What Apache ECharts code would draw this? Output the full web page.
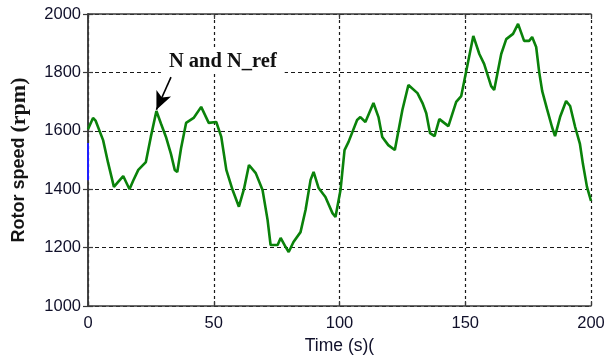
<!DOCTYPE html>
<html>
<head>
<meta charset="utf-8">
<script src="https://cdn.jsdelivr.net/npm/echarts@6/dist/echarts.min.js"></script>
<style>
  html, body { margin: 0; padding: 0; background: #fff; }
  #chart { width: 614px; height: 360px; }
</style>
</head>
<body>
<div id="chart"></div>
<script>
// Rotor speed trace: time (s) and speed (rpm)
const timeS = [
  0, 2, 3, 6, 8, 10.3, 12, 14, 16.5, 18, 20, 23, 25, 27.2, 29, 31, 33, 34.5, 35.5, 37,
  39, 42, 45, 48, 51, 53, 55, 57.5, 60, 62, 64, 66.7, 69.4, 71.4, 72.6, 75.4, 76.6, 78.6, 79.8, 81.7,
  84.5, 86.5, 88.5, 89.7, 91.7, 94.4, 97.2, 98.4, 100.4, 102, 103.6, 107, 108.3, 110.3, 113.5, 115.5, 117, 119.4, 122, 125,
  127.4, 131, 133, 134.5, 136, 137.8, 139.7, 143.3, 146.4, 148.4, 150.4, 153.2, 155.6, 157.5, 160.3, 161.5, 164.3, 166.3, 169, 171,
  173.4, 175.4, 176.6, 178.2, 179.4, 180.6, 182.5, 184.5, 185.7, 187.7, 190.1, 191.7, 193.7, 195.6, 196.8, 198.4, 200
];
const speedRpm = [
  1605, 1644, 1635, 1568, 1490, 1408, 1425, 1445, 1400, 1430, 1466, 1493, 1580, 1668, 1625, 1579, 1520, 1466, 1459, 1540,
  1627, 1644, 1682, 1627, 1630, 1579, 1466, 1397, 1340, 1400, 1483, 1455, 1397, 1295, 1209, 1209, 1233, 1202, 1185, 1219,
  1253, 1329, 1432, 1459, 1404, 1373, 1318, 1305, 1397, 1534, 1562, 1637, 1647, 1630, 1695, 1647, 1579, 1551, 1534, 1671,
  1757, 1729, 1695, 1660, 1592, 1582, 1640, 1616, 1699, 1719, 1805, 1925, 1863, 1829, 1753, 1740, 1863, 1914, 1932, 1966,
  1908, 1908, 1921, 1887, 1801, 1736, 1675, 1613, 1582, 1647, 1702, 1685, 1613, 1555, 1486, 1408, 1360
];
// Reference speed segment at t = 0
const refTime = [0, 0];
const refSpeed = [1431, 1558];

const xTicks = { min: 0, max: 200, interval: 50 };
const yTicks = { min: 1000, max: 2000, interval: 200 };

const speedData = timeS.map((t, i) => [t, speedRpm[i]]);
const refData = refTime.map((t, i) => [t, refSpeed[i]]);

const chart = echarts.init(document.getElementById('chart'), null, { renderer: 'canvas' });

const SANS = '"Liberation Sans", Arial, sans-serif';
const SERIF = '"Liberation Serif", "Times New Roman", serif';
const plain = v => String(v);
const tickFont = { fontFamily: SANS, fontSize: 16.5, color: '#10102a', formatter: plain };
const frame = { show: true, lineStyle: { color: '#3a3a3a', width: 1.5 } };
const innerTick = { show: true, inside: true, length: 5, lineStyle: { color: '#3a3a3a', width: 1.2 } };

chart.setOption({
  animation: false,
  backgroundColor: '#ffffff',
  grid: { left: 87, right: 23, top: 14, bottom: 54, containLabel: false },
  xAxis: [
    {
      type: 'value', position: 'bottom',
      min: xTicks.min, max: xTicks.max, interval: xTicks.interval,
      name: 'Time (s)(', nameLocation: 'middle', nameGap: 31,
      nameTextStyle: { fontFamily: SANS, fontSize: 17.5, color: '#10102a' },
      axisLine: frame,
      axisTick: innerTick,
      axisLabel: Object.assign({ margin: 9 }, tickFont),
      splitLine: { show: true, lineStyle: { color: '#1a1a1a', type: [3, 3], width: 1.2 } }
    },
    {
      type: 'value', position: 'top',
      min: xTicks.min, max: xTicks.max, interval: xTicks.interval,
      axisLine: frame,
      axisTick: innerTick,
      axisLabel: { show: false },
      splitLine: { show: false }
    }
  ],
  yAxis: [
    {
      type: 'value', position: 'left',
      min: yTicks.min, max: yTicks.max, interval: yTicks.interval,
      name: '{a|Rotor speed }{b|(rpm)}', nameLocation: 'middle', nameGap: 58, nameRotate: 90,
      nameTextStyle: {
        rich: {
          a: { fontFamily: SANS, fontSize: 18, fontWeight: 'bold', color: '#151515' },
          b: { fontFamily: SERIF, fontSize: 22, fontWeight: 'bold', color: '#151515' }
        }
      },
      axisLine: frame,
      axisTick: innerTick,
      axisLabel: Object.assign({ margin: 7 }, tickFont),
      splitLine: { show: true, lineStyle: { color: '#1a1a1a', type: [4, 3], width: 1.2 } }
    },
    {
      type: 'value', position: 'right',
      min: yTicks.min, max: yTicks.max, interval: yTicks.interval,
      axisLine: frame,
      axisTick: innerTick,
      axisLabel: { show: false },
      splitLine: { show: false }
    }
  ],
  series: [
    {
      name: 'N',
      type: 'line',
      data: speedData,
      showSymbol: false,
      lineStyle: { color: '#0a820a', width: 2.6 },
      z: 3,
      markLine: {
        silent: true,
        symbol: ['none', 'arrow'],
        symbolSize: [12, 18],
        lineStyle: { color: '#000', width: 1.6, type: 'solid' },
        label: { show: false },
        data: [[{ coord: [33, 1784] }, { coord: [27.2, 1672] }]]
      },
      markPoint: {
        silent: true,
        symbol: 'rect',
        symbolSize: 0,
        data: [{
          coord: [53.6, 1838],
          label: {
            show: true,
            formatter: 'N and N_ref',
            position: 'inside',
            fontFamily: SERIF,
            fontWeight: 'bold',
            fontSize: 20.5,
            color: '#111',
            backgroundColor: '#fff',
            padding: [2, 8, 2, 8]
          }
        }]
      }
    },
    {
      name: 'N_ref',
      type: 'line',
      data: refData,
      showSymbol: false,
      lineStyle: { color: '#2020ff', width: 2 },
      z: 4
    }
  ]
});
</script>
</body>
</html>
